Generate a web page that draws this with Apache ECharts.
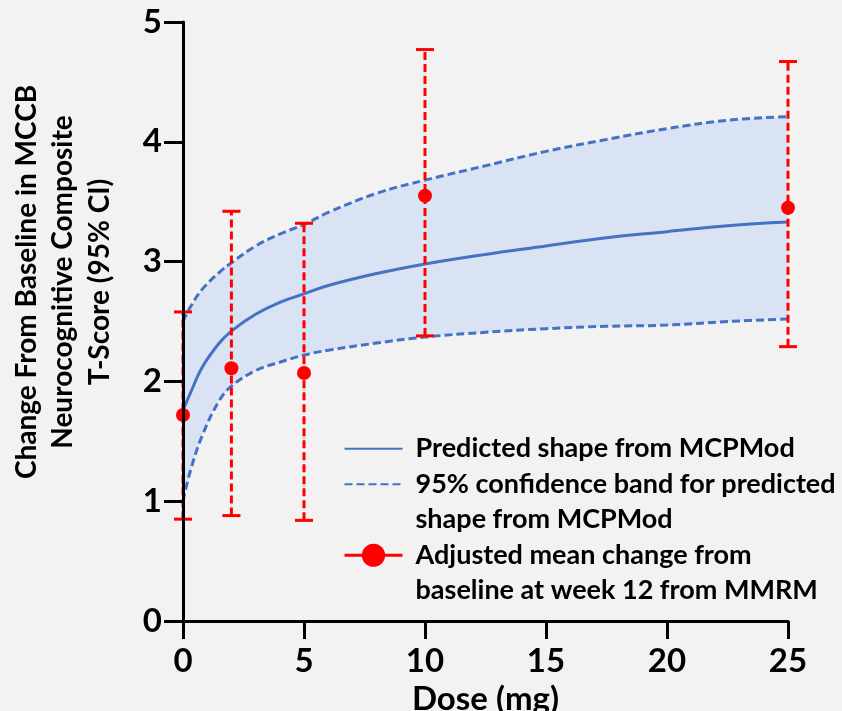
<!DOCTYPE html>
<html>
<head>
<meta charset="utf-8">
<script src="https://cdn.jsdelivr.net/npm/echarts@6/dist/echarts.min.js"></script>
<style>
  html, body { margin: 0; padding: 0; background: #F2F2F2; }
  #chart { width: 842px; height: 711px; }
</style>
</head>
<body>
<div id="chart"></div>
<script>
// dose grid for the fitted curves
const doses = [0, 0.3, 0.8, 1.5, 2, 3, 4, 5, 6, 8, 10, 12.5, 15, 17.5, 20, 22.5, 25];
const predicted = [1.76, 1.9, 2.12, 2.32, 2.42, 2.56, 2.66, 2.73, 2.8, 2.9, 2.98, 3.06, 3.13, 3.2, 3.25, 3.3, 3.33];
const upperBand = [2.5, 2.62, 2.77, 2.91, 2.99, 3.13, 3.23, 3.31, 3.41, 3.57, 3.68, 3.8, 3.92, 4.02, 4.11, 4.18, 4.21];
const lowerBand = [1.0, 1.25, 1.55, 1.84, 1.96, 2.09, 2.16, 2.22, 2.26, 2.32, 2.37, 2.41, 2.44, 2.46, 2.47, 2.5, 2.52];

// observed MMRM means with 95% CI
const obsDose = [0, 2, 5, 10, 25];
const obsMean = [1.72, 2.11, 2.07, 3.55, 3.45];
const obsLower = [0.85, 0.88, 0.84, 2.38, 2.29];
const obsUpper = [2.58, 3.42, 3.32, 4.77, 4.67];

const nameFit = 'Predicted shape from MCPMod';
const nameBand = '95% confidence band for predicted\nshape from MCPMod';
const nameObs = 'Adjusted mean change from\nbaseline at week 12 from MMRM';

const FONT = 'Lato';
const blue = '#4472C4';
const red = '#FF0000';
const bg = '#F2F2F2';

var chartDom = document.getElementById('chart');
var myChart = echarts.init(chartDom);

const pairs = (xs, ys) => xs.map((x, i) => [x, ys[i]]);

var option = {
  backgroundColor: bg,
  animation: false,
  textStyle: { fontFamily: FONT, fontWeight: 'bold', color: '#000' },
  grid: { left: 183, right: 54, top: 22, bottom: 90, outerBoundsMode: 'none' },
  legend: {
    orient: 'vertical',
    left: 343,
    top: 431,
    padding: 0,
    itemGap: -35.5,
    itemWidth: 58,
    itemHeight: 29,
    selectedMode: false,
    textStyle: {
      fontFamily: FONT, fontWeight: 'bold', fontSize: 27, lineHeight: 35.5, color: '#000',
      padding: [0, 0, 0, 8]
    },
    // blank first line keeps the icon level with the first line of text
    formatter: (name) => (name.indexOf('\n') >= 0 ? ' \n' + name : name),
    data: [
      { name: nameFit, itemStyle: { opacity: 0 } },
      { name: nameBand, itemStyle: { opacity: 0 } },
      { name: nameObs, lineStyle: { width: 3, color: red, opacity: 1 } }
    ]
  },
  xAxis: {
    type: 'value',
    min: 0,
    max: 25,
    interval: 5,
    z: 10,
    name: 'Dose (mg)',
    nameLocation: 'middle',
    nameGap: 57,
    nameTextStyle: { fontFamily: FONT, fontWeight: 'bold', fontSize: 33, color: '#000' },
    splitLine: { show: false },
    axisLine: { lineStyle: { color: '#000', width: 3 } },
    axisTick: { length: 18, lineStyle: { color: '#000', width: 3 } },
    axisLabel: { margin: 24, fontFamily: FONT, fontWeight: 'bold', fontSize: 33, color: '#000' }
  },
  yAxis: {
    type: 'value',
    min: 0,
    max: 5,
    interval: 1,
    z: 10,
    splitLine: { show: false },
    axisLine: { show: true, lineStyle: { color: '#000', width: 3 } },
    axisTick: { show: true, length: 19, lineStyle: { color: '#000', width: 3 } },
    axisLabel: { margin: 21, fontFamily: FONT, fontWeight: 'bold', fontSize: 33, color: '#000' }
  },
  graphic: [
    {
      type: 'text',
      x: 63,
      y: 282,
      rotation: Math.PI / 2,
      style: {
        text: 'Change From Baseline in MCCB\nNeurocognitive Composite\nT-Score (95% CI)',
        font: 'bold 28px ' + FONT,
        lineHeight: 36.5,
        align: 'center',
        verticalAlign: 'middle',
        fill: '#000'
      }
    }
  ],
  series: [
    // band: fill under the upper curve, then paint the background back under the lower curve
    {
      name: 'bandTop',
      type: 'line',
      smooth: 0.4,
      symbol: 'none',
      silent: true,
      z: 1,
      lineStyle: { opacity: 0 },
      areaStyle: { color: '#DAE3F3', opacity: 1 },
      data: pairs(doses, upperBand)
    },
    {
      name: 'bandBottom',
      type: 'line',
      smooth: 0.4,
      symbol: 'none',
      silent: true,
      z: 1,
      lineStyle: { opacity: 0 },
      areaStyle: { color: bg, opacity: 1 },
      data: pairs(doses, lowerBand)
    },
    {
      name: nameBand,
      type: 'line',
      smooth: 0.4,
      symbol: 'none',
      silent: true,
      itemStyle: { color: blue },
      lineStyle: { color: blue, width: 3, type: [8, 4] },
      data: pairs(doses, upperBand)
    },
    {
      name: nameBand,
      type: 'line',
      smooth: 0.4,
      symbol: 'none',
      silent: true,
      itemStyle: { color: blue },
      lineStyle: { color: blue, width: 3, type: [8, 4] },
      data: pairs(doses, lowerBand)
    },
    {
      name: nameFit,
      type: 'line',
      smooth: 0.4,
      symbol: 'none',
      silent: true,
      itemStyle: { color: blue },
      lineStyle: { color: blue, width: 3 },
      data: pairs(doses, predicted)
    },
    {
      name: 'ci',
      type: 'custom',
      silent: true,
      clip: false,
      z: 5,
      encode: { x: 0, y: [1, 2] },
      data: obsDose.map((d, i) => [d, obsLower[i], obsUpper[i]]),
      renderItem: function (params, api) {
        var x = api.value(0);
        var lo = api.coord([x, api.value(1)]);
        var hi = api.coord([x, api.value(2)]);
        var cap = 9;
        return {
          type: 'group',
          children: [
            { type: 'line', shape: { x1: lo[0], y1: lo[1], x2: hi[0], y2: hi[1] },
              style: { stroke: red, lineWidth: 3, lineDash: [8, 4] } },
            { type: 'line', shape: { x1: hi[0] - cap, y1: hi[1], x2: hi[0] + cap, y2: hi[1] },
              style: { stroke: red, lineWidth: 3 } },
            { type: 'line', shape: { x1: lo[0] - cap, y1: lo[1], x2: lo[0] + cap, y2: lo[1] },
              style: { stroke: red, lineWidth: 3 } }
          ]
        };
      }
    },
    {
      name: nameObs,
      type: 'line',
      z: 6,
      silent: true,
      symbol: 'circle',
      symbolSize: 14,
      showAllSymbol: true,
      clip: false,
      itemStyle: { color: red },
      lineStyle: { opacity: 0 },
      data: pairs(obsDose, obsMean)
    }
  ]
};

option && myChart.setOption(option);
</script>
</body>
</html>
